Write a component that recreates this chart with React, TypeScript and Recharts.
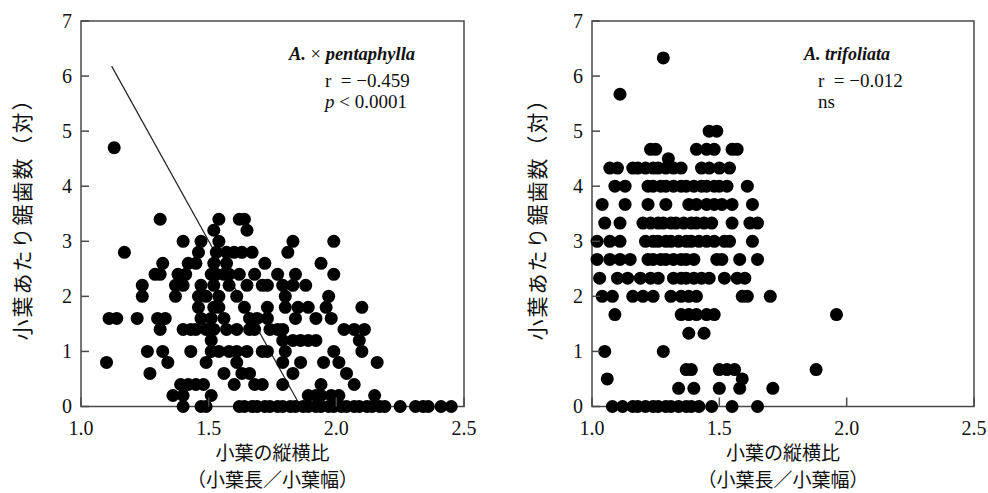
import React from "react";
import { ScatterChart, Scatter, XAxis, YAxis, ReferenceArea, ReferenceLine } from "recharts";

const xTicks = [1.0, 1.5, 2.0, 2.5];
const yTicks = [0, 1, 2, 3, 4, 5, 6, 7];

// A. × pentaphylla — serration count per leaflet (row level) and the leaflet ratios on that row
const pentaLevels = [4.7, 3.4, 3.2, 3.0, 2.8, 2.6, 2.4, 2.2, 2.0, 1.8, 1.6, 1.4, 1.2, 1.0, 0.8, 0.6, 0.4, 0.2, 0];
const pentaRatios = [
  [1.13],
  [1.31, 1.54, 1.62, 1.64],
  [1.52, 1.65],
  [1.4, 1.47, 1.54, 1.83, 1.99],
  [1.17, 1.46, 1.53, 1.57, 1.6, 1.63, 1.67, 1.81],
  [1.32, 1.42, 1.45, 1.52, 1.57, 1.72, 1.94],
  [1.29, 1.31, 1.38, 1.41, 1.51, 1.53, 1.56, 1.58, 1.62, 1.68, 1.77, 1.84, 1.99],
  [1.24, 1.37, 1.4, 1.47, 1.52, 1.58, 1.65, 1.71, 1.73, 1.79, 1.83, 1.88],
  [1.24, 1.37, 1.46, 1.49, 1.54, 1.61, 1.8, 1.97],
  [1.46, 1.52, 1.54, 1.64, 1.73, 1.8, 1.85, 1.89, 1.96, 2.1],
  [1.11, 1.14, 1.22, 1.3, 1.33, 1.47, 1.51, 1.56, 1.66, 1.69, 1.73, 1.84, 1.92, 1.98],
  [1.31, 1.4, 1.43, 1.45, 1.49, 1.52, 1.57, 1.61, 1.66, 1.68, 1.74, 1.77, 1.79, 2.03, 2.07, 2.11],
  [1.51, 1.79, 1.83, 1.86, 1.89, 1.92, 2.09],
  [1.26, 1.32, 1.43, 1.51, 1.54, 1.58, 1.61, 1.65, 1.71, 1.73, 1.8, 1.99, 2.1],
  [1.1, 1.34, 1.49, 1.61, 1.79, 1.86, 1.95, 2.01, 2.16],
  [1.27, 1.56, 1.63, 1.66, 1.83, 2.04],
  [1.39, 1.42, 1.45, 1.48, 1.6, 1.68, 1.71, 1.79, 1.94, 2.07],
  [1.36, 1.4, 1.51, 1.89, 1.92, 1.94, 1.98, 2.01, 2.15],
  [1.4, 1.47, 1.49, 1.62, 1.64, 1.67, 1.69, 1.72, 1.74, 1.77, 1.79, 1.82, 1.84, 1.87, 1.89, 1.92, 1.94,
    1.97, 1.99, 2.02, 2.04, 2.07, 2.09, 2.12, 2.14, 2.17, 2.19, 2.25, 2.31, 2.34, 2.36, 2.41, 2.45],
];
const pentaFit = [{ x: 1.12, y: 6.18 }, { x: 1.86, y: 0 }];

// A. trifoliata
const trifLevels = [6.33, 5.67, 5.0, 4.67, 4.5, 4.33, 4.0, 3.67, 3.33, 3.0, 2.67, 2.33, 2.0, 1.67, 1.33, 1.0, 0.67, 0.5, 0.33, 0];
const trifRatios = [
  [1.28],
  [1.11],
  [1.46, 1.49],
  [1.23, 1.25, 1.41, 1.45, 1.48, 1.55, 1.57],
  [1.3],
  [1.07, 1.1, 1.16, 1.18, 1.21, 1.24, 1.26, 1.29, 1.32, 1.35, 1.43, 1.46, 1.5, 1.54],
  [1.09, 1.13, 1.22, 1.24, 1.27, 1.29, 1.32, 1.35, 1.37, 1.4, 1.43, 1.45, 1.48, 1.5, 1.53, 1.61],
  [1.04, 1.13, 1.22, 1.29, 1.38, 1.41, 1.45, 1.48, 1.51, 1.55, 1.63],
  [1.05, 1.11, 1.2, 1.23, 1.26, 1.28, 1.31, 1.33, 1.36, 1.39, 1.41, 1.44, 1.47, 1.55, 1.62, 1.65],
  [1.02, 1.07, 1.11, 1.21, 1.24, 1.26, 1.29, 1.31, 1.34, 1.37, 1.39, 1.42, 1.45, 1.48, 1.52, 1.54, 1.63],
  [1.02, 1.07, 1.11, 1.15, 1.22, 1.24, 1.27, 1.29, 1.32, 1.35, 1.37, 1.4, 1.49, 1.51, 1.58, 1.65],
  [1.03, 1.1, 1.14, 1.19, 1.23, 1.26, 1.32, 1.35, 1.37, 1.4, 1.43, 1.46, 1.52, 1.57, 1.6],
  [1.04, 1.08, 1.16, 1.2, 1.24, 1.31, 1.35, 1.38, 1.41, 1.59, 1.61, 1.7],
  [1.09, 1.35, 1.38, 1.41, 1.45, 1.48, 1.96],
  [1.38, 1.44],
  [1.05, 1.28],
  [1.37, 1.39, 1.5, 1.53, 1.56, 1.88],
  [1.06, 1.59],
  [1.34, 1.4, 1.5, 1.58, 1.71],
  [1.08, 1.12, 1.16, 1.18, 1.21, 1.24, 1.26, 1.29, 1.31, 1.34, 1.37, 1.39, 1.42, 1.47, 1.55, 1.65],
];

const toPoints = (levels: number[], ratios: number[][]) =>
  levels.flatMap((lv, i) => ratios[i].map((x) => ({ x, y: lv })));

const pentaData = toPoints(pentaLevels, pentaRatios);
const trifData = toPoints(trifLevels, trifRatios);

const serif = "'Liberation Serif', 'Times New Roman', serif";
const cjk = "'Noto Sans CJK JP', sans-serif";
const frame = "#4a4a4a";

const XTick = (p: any) => (
  <g>
    <line x1={p.x} x2={p.x} y1={p.y} y2={p.y - 9} stroke={frame} strokeWidth={1.5} />
    <text x={p.x} y={p.y + 28.5} textAnchor="middle" fontSize={20} fontFamily={serif} fill="#111">
      {Number(p.payload.value).toFixed(1)}
    </text>
  </g>
);

const YTick = (p: any) => (
  <g>
    <line x1={p.x} x2={p.x + 8} y1={p.y} y2={p.y} stroke={frame} strokeWidth={1.5} />
    <text x={p.x - 9} y={p.y} dy="0.33em" textAnchor="end" fontSize={20} fontFamily={serif} fill="#111">
      {p.payload.value}
    </text>
  </g>
);

const Dot = (p: any) => <circle cx={p.cx} cy={p.cy} r={6.5} fill="#000" />;

function Panel({ data, width, right, fit }: { data: { x: number; y: number }[]; width: number; right: number; fit?: { x: number; y: number }[] }) {
  return (
    <ScatterChart width={width} height={493} margin={{ top: 21, right, bottom: 56.5, left: 51 }}>
      <XAxis dataKey="x" type="number" domain={[1, 2.5]} ticks={xTicks} interval={0} height={30}
        tickSize={0} tickMargin={0} axisLine={false} tickLine={false} tick={<XTick />} />
      <YAxis dataKey="y" type="number" domain={[0, 7]} ticks={yTicks} interval={0} width={30}
        tickSize={0} tickMargin={0} axisLine={false} tickLine={false} tick={<YTick />} />
      <ReferenceArea x1={1} x2={2.5} y1={0} y2={7} fill="none" stroke={frame} strokeWidth={1.5} />
      {fit && <ReferenceLine segment={fit} stroke="#222" strokeWidth={1.2} />}
      <Scatter data={data} shape={<Dot />} isAnimationActive={false} />
    </ScatterChart>
  );
}

const T = (props: any) => <text fontFamily={serif} fontSize={19} fill="#111" xmlSpace="preserve" {...props} />;

export default function App() {
  return (
    <div style={{ position: "absolute", left: 0, top: 0, width: 988, height: 493, overflow: "hidden", background: "#fff" }}>
      <div style={{ position: "absolute", left: 0, top: 0 }}>
        <Panel data={pentaData} width={480} right={16} fit={pentaFit} />
      </div>
      <div style={{ position: "absolute", left: 511, top: 0 }}>
        <Panel data={trifData} width={477} right={14} />
      </div>
      <svg width={988} height={493} style={{ position: "absolute", left: 0, top: 0, pointerEvents: "none" }}>
        <T x={289} y={60} fontSize={18.5} fontStyle="italic" fontWeight="bold">
          A.<tspan fontStyle="normal" fontWeight="normal">{" × "}</tspan>pentaphylla
        </T>
        <T x={325} y={87}>{"r  = −0.459"}</T>
        <T x={325} y={108}><tspan fontStyle="italic">p</tspan>{" < 0.0001"}</T>
        <T x={804} y={60} fontSize={18} fontStyle="italic" fontWeight="bold">A. trifoliata</T>
        <T x={818} y={87}>{"r  = −0.012"}</T>
        <T x={818} y={108}>ns</T>

        {[272.5, 783].map((cx) => (
          <g key={cx} fontFamily={cjk} fontSize={19} fill="#111" textAnchor="middle">
            <text x={cx} y={460}>小葉の縦横比</text>
            <text x={cx} y={487}>（小葉長／小葉幅）</text>
          </g>
        ))}
        {[[30, 214], [545, 214]].map(([x, y]) => (
          <text key={x} x={x} y={y} transform={`rotate(-90 ${x} ${y})`} fontFamily={cjk} fontSize={21}
            letterSpacing={2} fill="#111" textAnchor="middle">
            小葉あたり鋸歯数（対）
          </text>
        ))}
      </svg>
    </div>
  );
}
